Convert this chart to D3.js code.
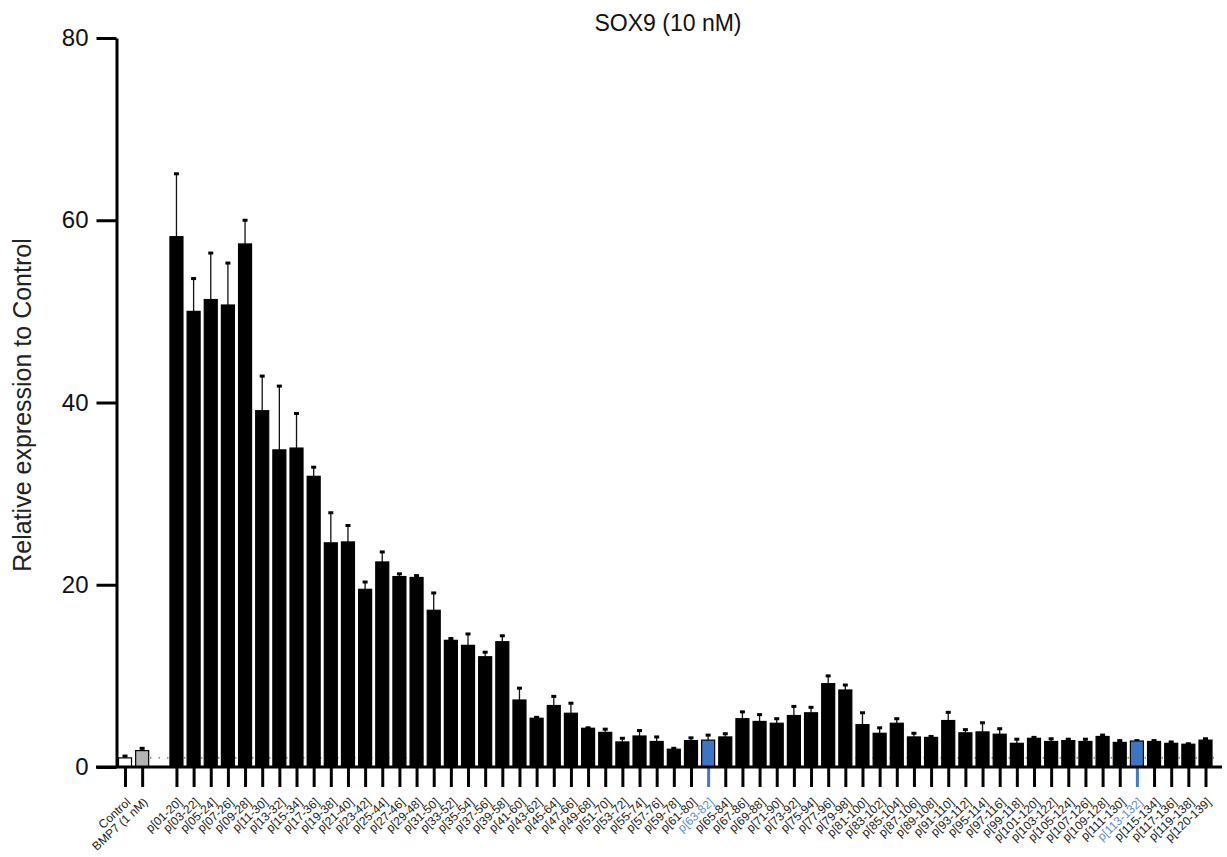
<!DOCTYPE html>
<html>
<head>
<meta charset="utf-8">
<script src="https://cdn.jsdelivr.net/npm/d3@7"></script>
<style>
  body { margin: 0; background: #fff; }
  text { font-family: "Liberation Sans", Arial, sans-serif; }
</style>
</head>
<body>
<div id="chart"></div>
<script>
// categories (a blank spacer sits between BMP7 and the peptides)
const controls = ["Control", "BMP7 (1 nM)"];
const peptides = [
  "p[01-20]", "p[03-22]", "p[05-24]", "p[07-26]", "p[09-28]", "p[11-30]", "p[13-32]", "p[15-34]",
  "p[17-36]", "p[19-38]", "p[21-40]", "p[23-42]", "p[25-44]", "p[27-46]", "p[29-48]", "p[31-50]",
  "p[33-52]", "p[35-54]", "p[37-56]", "p[39-58]", "p[41-60]", "p[43-62]", "p[45-64]", "p[47-66]",
  "p[49-68]", "p[51-70]", "p[53-72]", "p[55-74]", "p[57-76]", "p[59-78]", "p[61-80]", "p[63-82]",
  "p[65-84]", "p[67-86]", "p[69-88]", "p[71-90]", "p[73-92]", "p[75-94]", "p[77-96]", "p[79-98]",
  "p[81-100]", "p[83-102]", "p[85-104]", "p[87-106]", "p[89-108]", "p[91-110]", "p[93-112]", "p[95-114]",
  "p[97-116]", "p[99-118]", "p[101-120]", "p[103-122]", "p[105-124]", "p[107-126]", "p[109-128]", "p[111-130]",
  "p[113-132]", "p[115-134]", "p[117-136]", "p[119-138]", "p[120-139]"
];
const highlighted = ["p[63-82]", "p[113-132]"];

// mean values
const controlMeans = [1.0, 1.8];
const peptideMeans = [
  58.2, 50.0, 51.3, 50.7, 57.4, 39.1, 34.8, 35.0,
  31.9, 24.6, 24.7, 19.5, 22.5, 20.9, 20.8, 17.2,
  13.9, 13.35, 12.1, 13.75, 7.35, 5.35, 6.75, 5.9,
  4.25, 3.8, 2.75, 3.4, 2.8, 1.95, 2.9, 2.95,
  3.3, 5.3, 5.0, 4.8, 5.65, 5.95, 9.15, 8.45,
  4.65, 3.7, 4.8, 3.3, 3.25, 5.1, 3.75, 3.85,
  3.6, 2.6, 3.15, 2.8, 2.9, 2.8, 3.35, 2.7,
  2.85, 2.8, 2.6, 2.5, 2.95
];
// upper error (SD)
const controlErrors = [0.2, 0.25];
const peptideErrors = [
  6.9, 3.6, 5.1, 4.6, 2.6, 3.8, 7.0, 3.8,
  1.0, 3.3, 1.8, 0.8, 1.1, 0.3, 0.2, 1.9,
  0.2, 1.25, 0.5, 0.65, 1.3, 0.1, 1.0, 1.1,
  0.05, 0.35, 0.4, 0.6, 0.5, 0.1, 0.3, 0.55,
  0.35, 0.75, 0.75, 0.5, 1.0, 0.6, 0.85, 0.55,
  1.3, 0.6, 0.5, 0.4, 0.1, 0.9, 0.35, 1.0,
  0.6, 0.45, 0.1, 0.3, 0.15, 0.25, 0.15, 0.2,
  0.05, 0.1, 0.15, 0.05, 0.15
];
const yTicks = [0, 20, 40, 60, 80];
const baseline = 1;

const width = 1227, height = 857;

const data = controls.map((c, i) => ({ name: c, mean: controlMeans[i], err: controlErrors[i] }))
  .concat(peptides.map((p, i) => ({ name: p, mean: peptideMeans[i], err: peptideErrors[i] })));

const slots = controls.concat([" "], peptides);

const svg = d3.select("#chart")
  .append("svg")
  .attr("width", width)
  .attr("height", height);

const x = d3.scalePoint()
  .domain(slots)
  .range([125, 1205.5]);

const y = d3.scaleLinear()
  .domain([0, 80])
  .range([767, 38]);

const barW = 13;

function fillFor(d) {
  if (d.name === "Control") return "#ffffff";
  if (d.name === "BMP7 (1 nM)") return "#b4b4b4";
  if (highlighted.includes(d.name)) return "#3a76c2";
  return "#000000";
}

// dotted reference line at control level
svg.append("line")
  .attr("x1", 150).attr("x2", 1221)
  .attr("y1", y(baseline)).attr("y2", y(baseline))
  .attr("stroke", "#444")
  .attr("stroke-width", 1)
  .attr("stroke-dasharray", "1.5,7");

// error bars
const eb = svg.append("g");
eb.selectAll("line")
  .data(data)
  .join("line")
  .attr("x1", d => x(d.name)).attr("x2", d => x(d.name))
  .attr("y1", d => y(d.mean)).attr("y2", d => y(d.mean + d.err))
  .attr("stroke", "#111")
  .attr("stroke-width", 1.3);
eb.selectAll("rect")
  .data(data)
  .join("rect")
  .attr("x", d => x(d.name) - 2.5)
  .attr("y", d => y(d.mean + d.err) - 1.5)
  .attr("width", 5)
  .attr("height", 3)
  .attr("fill", "#000");

// bars
svg.append("g")
  .selectAll("rect")
  .data(data)
  .join("rect")
  .attr("x", d => x(d.name) - barW / 2)
  .attr("y", d => y(d.mean))
  .attr("width", barW)
  .attr("height", d => y(0) - y(d.mean))
  .attr("fill", fillFor)
  .attr("stroke", "#000")
  .attr("stroke-width", 1.2);

// x axis
const xAxis = svg.append("g")
  .attr("transform", `translate(0,${y(0)})`)
  .call(d3.axisBottom(x)
    .tickValues(controls.concat(peptides))
    .tickSize(20)
    .tickSizeOuter(0));
xAxis.select(".domain").remove();
xAxis.selectAll(".tick line")
  .attr("stroke-width", 3)
  .attr("stroke", d => highlighted.includes(d) ? "#3f7bc6" : "#000");
xAxis.selectAll(".tick text")
  .attr("y", 0)
  .attr("dy", "0.35em")
  .attr("transform", "translate(3,33) rotate(-43)")
  .style("text-anchor", "end")
  .style("font-size", "12px")
  .attr("fill", d => highlighted.includes(d) ? "#5b8fd0" : "#1a1a1a");

svg.append("line")
  .attr("x1", 96).attr("x2", 1222)
  .attr("y1", y(0)).attr("y2", y(0))
  .attr("stroke", "#000")
  .attr("stroke-width", 3);

// y axis
const yAxis = svg.append("g")
  .attr("transform", "translate(116.5,0)")
  .call(d3.axisLeft(y)
    .tickValues(yTicks)
    .tickSize(20)
    .tickSizeOuter(0)
    .tickPadding(8));
yAxis.select(".domain").attr("stroke-width", 3);
yAxis.selectAll(".tick line").attr("stroke-width", 3);
yAxis.selectAll(".tick text")
  .style("font-size", "24px")
  .attr("fill", "#111");

// labels
svg.append("text")
  .attr("x", 668)
  .attr("y", 31)
  .attr("text-anchor", "middle")
  .style("font-size", "23px")
  .attr("fill", "#111")
  .text("SOX9 (10 nM)");

svg.append("text")
  .attr("transform", "translate(31,405) rotate(-90)")
  .attr("text-anchor", "middle")
  .style("font-size", "25px")
  .attr("fill", "#222")
  .text("Relative expression to Control");
</script>
</body>
</html>
